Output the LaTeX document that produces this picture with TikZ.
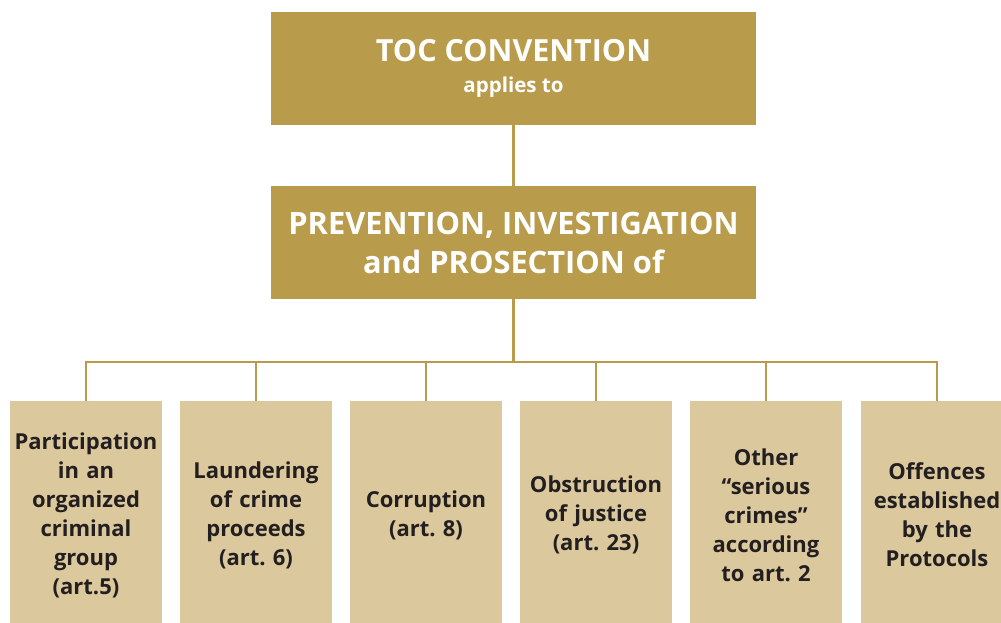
\documentclass[tikz,border=0pt]{standalone}
\usepackage{fontspec}
\setmainfont{Open Sans}
\frenchspacing
\definecolor{tocgold}{HTML}{B99C4B}
\definecolor{toctan}{HTML}{DBC89C}
\definecolor{tocink}{HTML}{231F20}
\tikzset{
  headbox/.style={fill=tocgold, text=white, minimum width=485pt, minimum height=113pt,
    align=center, inner sep=0pt, font=\bfseries},
  crimebox/.style={fill=toctan, text=tocink, minimum width=152pt, minimum height=228pt,
    text width=150pt, align=center, inner sep=0pt,
    font=\bfseries\fontsize{22}{29}\selectfont},
  link/.style={draw=tocgold, line width=2.5pt}
}
\begin{document}
\begin{tikzpicture}[x=1pt,y=-1pt]
  \useasboundingbox (0,0) rectangle (1001,622);
  \clip (0,0) rectangle (1001,622);
  \node[headbox, font=\bfseries\fontsize{30.5}{31}\selectfont] (toc) at (513.5,68.5)
    {TOC CONVENTION\\[0pt]\fontsize{20.5}{21}\selectfont applies to};
  \node[headbox, font=\bfseries\fontsize{30.8}{39}\selectfont] (scope) at (513.5,242.5)
    {PREVENTION, INVESTIGATION\\and PROSECTION of};
  \node[crimebox] (c1) at (86,515) {Participation\\in an\\organized\\criminal\\group\\(art.5)};
  \node[crimebox] (c2) at (256,515) {Laundering\\of crime\\proceeds\\(art. 6)};
  \node[crimebox] (c3) at (426,515) {Corruption\\(art. 8)};
  \node[crimebox] (c4) at (596,515) {Obstruction\\of justice\\(art. 23)};
  \node[crimebox] (c5) at (766,515) {Other\\``serious\\crimes''\\according\\to art. 2};
  \node[crimebox] (c6) at (937,515) {Offences\\established\\by the\\Protocols};
  \coordinate (bus) at (513.5,362);
  \begin{scope}[link]
    \draw (toc) to (scope);
    \draw (scope.south) to (bus);
    \draw (c1.north) |- (bus) -| (c6.north);
    \draw (c2.north) to (c2.north |- bus);
    \draw (c3.north) to (c3.north |- bus);
    \draw (c4.north) to (c4.north |- bus);
    \draw (c5.north) to (c5.north |- bus);
  \end{scope}
\end{tikzpicture}
\end{document}
